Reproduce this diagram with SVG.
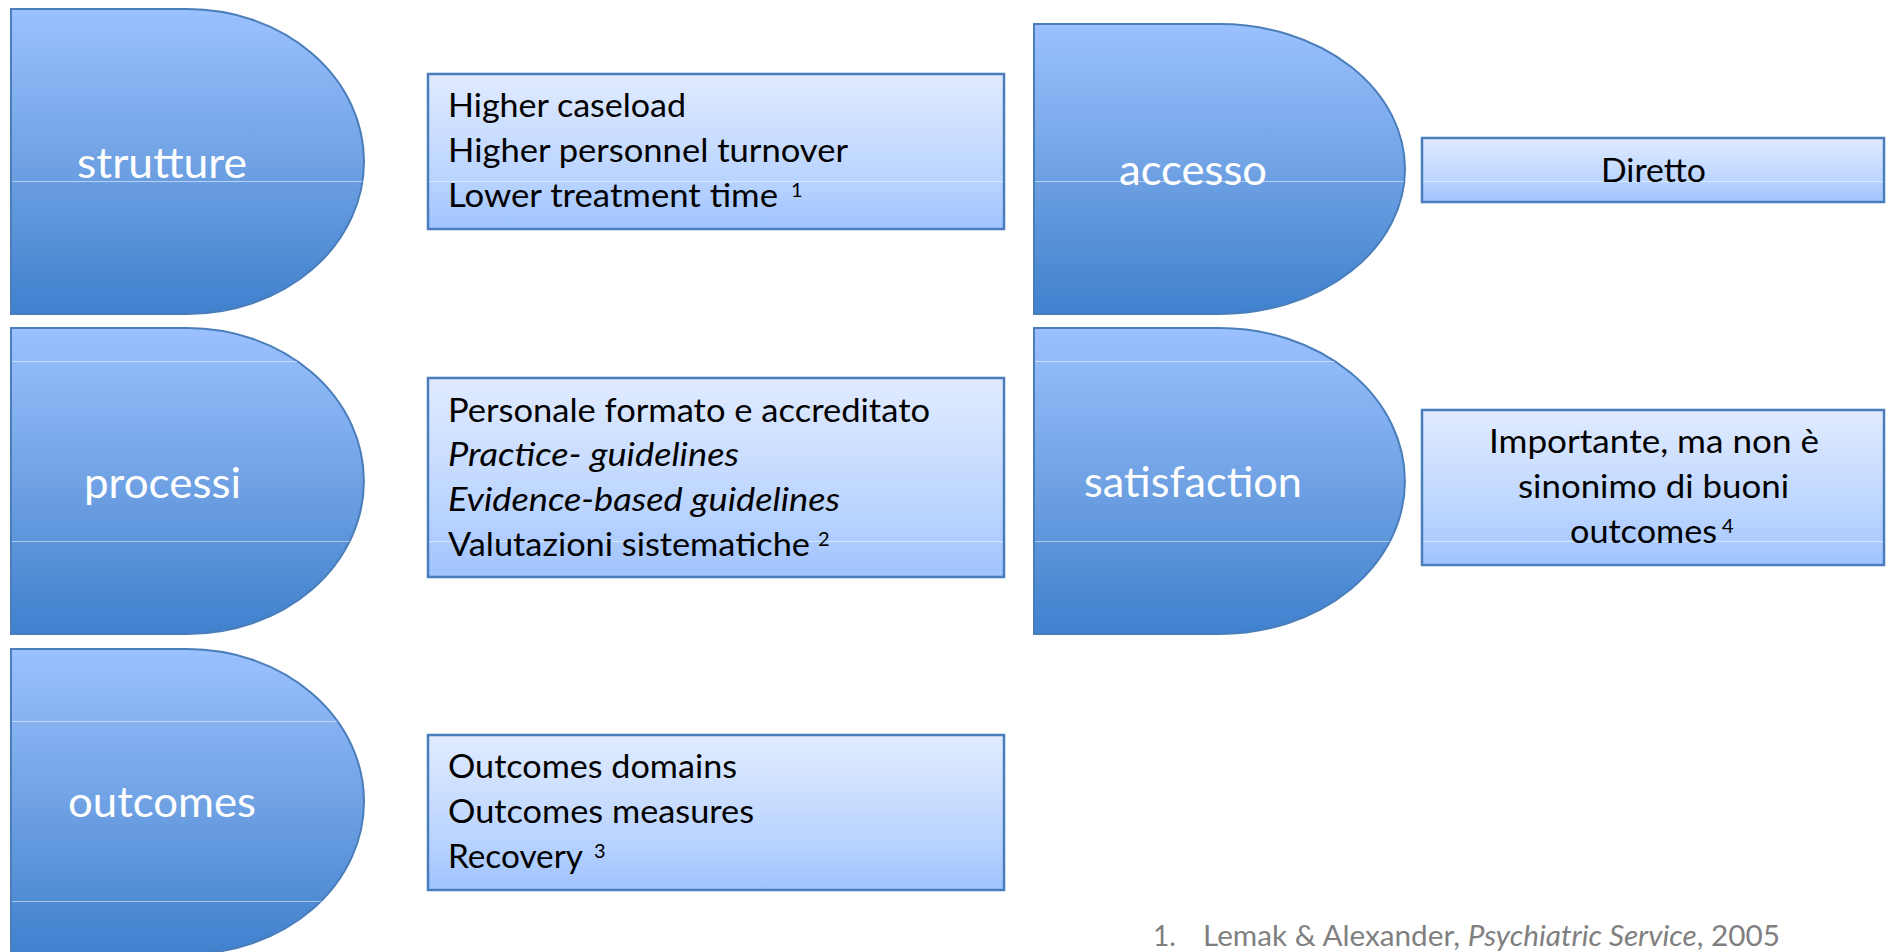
<svg xmlns="http://www.w3.org/2000/svg" width="1887" height="952" viewBox="0 0 1887 952">
<defs>
<linearGradient id="gDark" x1="0" y1="0" x2="0" y2="1">
<stop offset="0" stop-color="#9BC1FF"/>
<stop offset="0.5" stop-color="#70A2E4"/>
<stop offset="1" stop-color="#3F80CD"/>
</linearGradient>
<linearGradient id="gLight" x1="0" y1="0" x2="0" y2="1">
<stop offset="0" stop-color="#E1EBFF"/>
<stop offset="0.65" stop-color="#BBD5FF"/>
<stop offset="1" stop-color="#A0C3FE"/>
</linearGradient>
<style>
.dshape{fill:url(#gDark);stroke:#4A7EBB;stroke-width:2}
.box{fill:url(#gLight);stroke:#4A7EBB;stroke-width:2.5}
.seam{stroke:#FFFFFF;stroke-opacity:0.5;stroke-width:1}
.lbl{font-family:Lato,'Open Sans','Liberation Sans',sans-serif;font-size:43px;fill:#FFFFFF}
.txt{font-family:Lato,'Open Sans','Liberation Sans',sans-serif;font-size:33px;fill:#000000}
.it{font-style:italic}
.sup{font-family:Lato,'Open Sans','Liberation Sans',sans-serif;font-size:20px;fill:#000000}
.ref{font-family:Lato,'Open Sans','Liberation Sans',sans-serif;font-size:28px;fill:#7F7F7F}
</style>
</defs>
<rect x="0" y="0" width="1887" height="952" fill="#FFFFFF"/>

<g id="node-strutture">
<path class="dshape" d="M11,9 H187.5 A176.5,152.5 0 0 1 187.5,314 H11 Z"/>
<line class="seam" x1="12" y1="181.5" x2="362.5" y2="181.5"/>
<text class="lbl" x="77" y="178" textLength="170" lengthAdjust="spacingAndGlyphs">strutture</text>
</g>

<g id="node-strutture-details">
<rect class="box" x="428" y="74" width="576" height="155"/>
<line class="seam" x1="429" y1="181.5" x2="1003" y2="181.5"/>
<text class="txt" x="448" y="117" textLength="238" lengthAdjust="spacingAndGlyphs">Higher caseload</text>
<text class="txt" x="448" y="162" textLength="400" lengthAdjust="spacingAndGlyphs">Higher personnel turnover</text>
<text class="txt" x="448" y="207" textLength="330" lengthAdjust="spacingAndGlyphs">Lower treatment time</text>
<text class="sup" x="791" y="197">1</text>
</g>

<g id="node-processi">
<path class="dshape" d="M11,328 H187.5 A176.5,153 0 0 1 187.5,634 H11 Z"/>
<line class="seam" x1="12" y1="361.5" x2="297" y2="361.5"/>
<line class="seam" x1="12" y1="541.5" x2="349.5" y2="541.5"/>
<text class="lbl" x="84" y="498" textLength="157" lengthAdjust="spacingAndGlyphs">processi</text>
</g>

<g id="node-processi-details">
<rect class="box" x="428" y="378" width="576" height="199"/>
<line class="seam" x1="429" y1="541.5" x2="1003" y2="541.5"/>
<text class="txt" x="448" y="422" textLength="482" lengthAdjust="spacingAndGlyphs">Personale formato e accreditato</text>
<text class="txt it" x="448" y="466" textLength="291" lengthAdjust="spacingAndGlyphs">Practice- guidelines</text>
<text class="txt it" x="448" y="511" textLength="392" lengthAdjust="spacingAndGlyphs">Evidence-based guidelines</text>
<text class="txt" x="448" y="556" textLength="362" lengthAdjust="spacingAndGlyphs">Valutazioni sistematiche</text>
<text class="sup" x="818" y="546">2</text>
</g>

<g id="node-outcomes">
<path class="dshape" d="M11,649 H187.5 A176.5,152.5 0 0 1 187.5,954 H11 Z"/>
<line class="seam" x1="12" y1="721.5" x2="337" y2="721.5"/>
<line class="seam" x1="12" y1="901.5" x2="321" y2="901.5"/>
<text class="lbl" x="68" y="817" textLength="188" lengthAdjust="spacingAndGlyphs">outcomes</text>
</g>

<g id="node-outcomes-details">
<rect class="box" x="428" y="735" width="576" height="155"/>
<text class="txt" x="448" y="778" textLength="289" lengthAdjust="spacingAndGlyphs">Outcomes domains</text>
<text class="txt" x="448" y="823" textLength="306" lengthAdjust="spacingAndGlyphs">Outcomes measures</text>
<text class="txt" x="448" y="868" textLength="135" lengthAdjust="spacingAndGlyphs">Recovery</text>
<text class="sup" x="594" y="858">3</text>
</g>

<g id="node-accesso">
<path class="dshape" d="M1034,24 H1219.5 A185.5,145 0 0 1 1219.5,314 H1034 Z"/>
<line class="seam" x1="1035" y1="181.5" x2="1404" y2="181.5"/>
<text class="lbl" x="1119" y="185" textLength="148" lengthAdjust="spacingAndGlyphs">accesso</text>
</g>

<g id="node-accesso-details">
<rect class="box" x="1422" y="138" width="462" height="64"/>
<line class="seam" x1="1423" y1="181.5" x2="1883" y2="181.5"/>
<text class="txt" x="1601" y="182" textLength="105" lengthAdjust="spacingAndGlyphs">Diretto</text>
</g>

<g id="node-satisfaction">
<path class="dshape" d="M1034,328 H1219.5 A185.5,153 0 0 1 1219.5,634 H1034 Z"/>
<line class="seam" x1="1035" y1="361.5" x2="1334.5" y2="361.5"/>
<line class="seam" x1="1035" y1="541.5" x2="1390" y2="541.5"/>
<text class="lbl" x="1084" y="497" textLength="218" lengthAdjust="spacingAndGlyphs">satisfaction</text>
</g>

<g id="node-satisfaction-details">
<rect class="box" x="1422" y="410" width="462" height="155"/>
<line class="seam" x1="1423" y1="541.5" x2="1883" y2="541.5"/>
<text class="txt" x="1489" y="453" textLength="330" lengthAdjust="spacingAndGlyphs">Importante, ma non è</text>
<text class="txt" x="1518" y="498" textLength="271" lengthAdjust="spacingAndGlyphs">sinonimo di buoni</text>
<text class="txt" x="1570" y="543" textLength="147" lengthAdjust="spacingAndGlyphs">outcomes</text>
<text class="sup" x="1722" y="533">4</text>
</g>

<g id="connectors"></g>

<g id="footnote">
<text class="ref" x="1153" y="946">1.</text>
<text class="ref" x="1203" y="946" textLength="577" lengthAdjust="spacingAndGlyphs">Lemak &amp; Alexander<tspan class="it">, Psychiatric Service</tspan>, 2005</text>
</g>
</svg>
